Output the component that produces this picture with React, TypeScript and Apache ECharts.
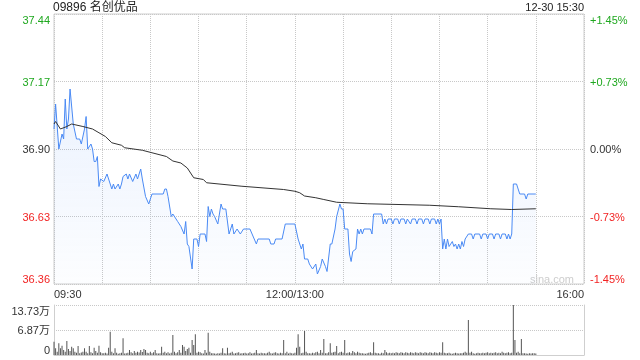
import React, { useEffect, useRef } from "react";
import * as echarts from "echarts";

// ---- data ----
const stockTitle = "09896 名创优品";
const stampText = "12-30 15:30";
const prevClose = 36.9;
const priceStep = 0.27;
const priceTickLabels = ["36.36", "36.63", "36.90", "37.17", "37.44"];
const pctTickLabels = ["-1.45%", "-0.73%", "0.00%", "+0.73%", "+1.45%"];
const volTickLabels = ["0", "6.87万", "13.73万"];
const volMax = 13.73;
const timeLabels: Record<number, string> = { 0: "09:30", 150: "12:00/13:00", 330: "16:00" };

// [minute since 09:30 (lunch removed), price]
const pricePoints: [number, number][] = [
  [0, 36.98], [1, 37.08], [3, 36.9], [5, 36.96], [6, 36.94], [7, 37.1], [8, 36.98], [9, 37.02], [10, 37.14], [12, 37.0],
  [14, 36.94], [16, 36.94], [17, 36.92], [19, 36.98], [20, 37.03], [21, 36.9], [23, 36.92], [24, 36.9], [25, 36.85], [26, 36.85],
  [27, 36.87], [28, 36.75], [29, 36.78], [31, 36.77], [33, 36.8], [35, 36.76], [36, 36.74], [37, 36.76], [38, 36.74], [40, 36.76],
  [41, 36.74], [42, 36.76], [43, 36.79], [45, 36.8], [46, 36.78], [47, 36.8], [49, 36.77], [51, 36.8], [52, 36.78], [54, 36.82],
  [55, 36.78], [57, 36.71], [59, 36.68], [61, 36.72], [68, 36.72], [69, 36.74], [70, 36.74], [71, 36.71], [73, 36.63], [74, 36.64],
  [77, 36.61], [79, 36.59], [81, 36.56], [82, 36.61], [83, 36.52], [84, 36.51], [86, 36.42], [87, 36.54], [89, 36.54], [90, 36.51],
  [91, 36.56], [94, 36.56], [95, 36.53], [96, 36.67], [97, 36.63], [98, 36.66], [99, 36.64], [100, 36.63], [102, 36.6], [104, 36.68],
  [105, 36.66], [107, 36.66], [109, 36.56], [111, 36.6], [112, 36.56], [114, 36.58], [116, 36.56], [118, 36.58], [122, 36.58], [126, 36.52],
  [127, 36.54], [134, 36.54], [135, 36.52], [137, 36.52], [138, 36.54], [142, 36.54], [144, 36.6], [150, 36.6], [152, 36.54], [154, 36.5],
  [155, 36.52], [156, 36.46], [158, 36.46], [159, 36.44], [161, 36.42], [163, 36.44], [164, 36.4], [166, 36.43], [167, 36.46], [169, 36.43],
  [170, 36.41], [172, 36.52], [173, 36.52], [175, 36.58], [176, 36.63], [178, 36.68], [179, 36.66], [180, 36.66], [181, 36.58], [183, 36.58],
  [184, 36.48], [185, 36.45], [186, 36.49], [188, 36.5], [189, 36.58], [190, 36.56], [191, 36.58], [192, 36.56], [193, 36.58], [197, 36.58],
  [198, 36.56], [199, 36.64], [204, 36.64], [205, 36.6], [206, 36.62], [207, 36.6], [208, 36.62], [210, 36.62], [211, 36.6], [212, 36.62],
  [214, 36.62], [215, 36.6], [216, 36.62], [218, 36.62], [219, 36.6], [220, 36.62], [222, 36.6], [223, 36.62], [225, 36.62], [226, 36.6],
  [227, 36.62], [229, 36.62], [230, 36.6], [231, 36.62], [233, 36.62], [234, 36.6], [235, 36.62], [237, 36.62], [238, 36.6], [239, 36.62],
  [240, 36.6], [241, 36.62], [242, 36.5], [243, 36.54], [244, 36.5], [245, 36.54], [246, 36.51], [248, 36.53], [249, 36.51], [250, 36.52],
  [251, 36.5], [252, 36.52], [253, 36.5], [254, 36.53], [255, 36.51], [256, 36.54], [258, 36.56], [260, 36.56], [261, 36.54], [262, 36.56],
  [265, 36.56], [266, 36.54], [267, 36.56], [269, 36.56], [270, 36.54], [271, 36.56], [273, 36.56], [274, 36.54], [275, 36.56], [277, 36.56],
  [278, 36.54], [279, 36.56], [281, 36.56], [282, 36.54], [283, 36.56], [284, 36.54], [285, 36.56], [286, 36.76], [288, 36.76], [290, 36.72],
  [293, 36.72], [294, 36.7], [295, 36.72], [300, 36.72],
];

const avgPoints: [number, number][] = [
  [0, 37.0], [1, 37.01], [4, 36.98], [8, 36.99], [11, 37.0], [18, 36.99], [24, 36.98], [28, 36.965], [32, 36.95], [36, 36.925],
  [42, 36.915], [44, 36.905], [55, 36.895], [61, 36.885], [70, 36.87], [74, 36.852], [79, 36.844], [83, 36.824], [87, 36.785], [93, 36.778],
  [95, 36.765], [117, 36.751], [143, 36.738], [150, 36.731], [153, 36.725], [156, 36.712], [163, 36.705], [168, 36.698], [176, 36.687], [195, 36.681],
  [234, 36.675], [252, 36.669], [272, 36.661], [285, 36.658], [300, 36.661],
];

// volume per minute, in 万 shares
const volumes: number[] = [
  3.65, 1.84, 0.9, 3.21, 1.84, 2.55, 1.37, 0.91, 3.84, 1.65,
  1.1, 2.28, 1.84, 0.91, 0.6, 2.47, 0.47, 0.7, 0.91, 1.84,
  0.91, 0.5, 2.47, 0.74, 0.5, 2.0, 1.1, 0.6, 2.55, 0.74,
  0.5, 0.47, 0.6, 0.4, 2.0, 6.4, 0.91, 0.5, 1.84, 0.6,
  0.36, 0.5, 0.6, 4.59, 0.4, 0.47, 0.6, 1.37, 0.74, 0.5,
  1.1, 0.6, 0.91, 0.7, 1.37, 0.8, 1.65, 1.37, 0.6, 0.5,
  0.91, 0.5, 0.74, 1.37, 0.5, 0.4, 0.47, 2.28, 0.6, 0.91,
  0.5, 0.74, 0.4, 0.6, 5.49, 0.91, 0.5, 0.74, 1.37, 0.6,
  2.75, 2.28, 1.1, 1.65, 2.0, 0.6, 4.12, 2.75, 5.68, 0.6,
  0.91, 0.74, 0.5, 0.4, 1.37, 0.6, 6.12, 0.91, 0.47, 0.5,
  0.4, 0.36, 0.5, 0.4, 0.6, 1.84, 0.5, 0.4, 2.0, 0.5,
  0.6, 0.91, 0.4, 0.5, 0.6, 0.74, 0.4, 0.5, 0.47, 0.6,
  0.4, 0.5, 0.74, 0.4, 0.5, 0.6, 1.37, 0.5, 0.4, 0.6,
  0.47, 0.5, 0.4, 0.6, 0.91, 0.5, 0.4, 0.6, 0.74, 0.5,
  0.4, 0.6, 0.5, 4.12, 0.5, 0.91, 0.4, 0.6, 0.5, 0.4,
  0.6, 2.0, 5.68, 2.28, 0.5, 0.6, 6.59, 0.91, 0.5, 0.47,
  0.4, 0.6, 0.5, 0.74, 0.91, 0.5, 1.37, 0.6, 4.39, 0.47,
  0.5, 0.74, 3.21, 0.6, 0.74, 0.91, 2.47, 0.5, 0.74, 0.91,
  0.6, 4.12, 0.47, 0.6, 0.74, 0.5, 1.1, 0.74, 0.5, 0.91,
  0.6, 0.47, 0.5, 0.4, 0.36, 0.5, 0.6, 0.74, 0.5, 3.49,
  0.6, 0.47, 0.5, 0.36, 0.6, 0.5, 1.37, 0.74, 0.5, 0.6,
  0.47, 0.6, 0.5, 0.74, 0.6, 0.5, 0.74, 0.6, 0.5, 0.74,
  0.6, 0.5, 0.74, 0.6, 0.5, 0.74, 0.6, 0.5, 0.74, 0.6,
  0.5, 0.74, 0.6, 0.5, 0.74, 0.6, 0.5, 0.74, 0.6, 0.5,
  0.74, 0.6, 3.49, 0.6, 0.47, 0.5, 0.6, 0.4, 0.36, 0.5,
  0.6, 0.5, 0.4, 0.5, 0.47, 0.6, 0.91, 0.6, 9.61, 0.6,
  0.91, 0.5, 0.36, 0.5, 0.6, 0.5, 0.47, 0.6, 0.5, 0.6,
  0.74, 0.5, 0.6, 0.5, 0.6, 0.74, 0.5, 0.6, 0.5, 0.91,
  0.6, 0.5, 0.6, 0.74, 0.5, 0.6, 13.73, 4.12, 0.6, 0.91,
  0.5, 4.39, 0.47, 0.5, 0.4, 0.36, 0.5, 0.4, 0.47, 0.5,
  0.4,
];

const FONT = "Arial, 'Liberation Sans', 'Noto Sans CJK SC', sans-serif";
const GREEN = "#1fa81f";
const RED = "#f22323";
const DARK = "#333";

const toUnit = (p: number) => (p - prevClose) / priceStep;
const tickColor = (v: number) => {
  const i = Math.round(Number(v));
  return i > 0 ? GREEN : i < 0 ? RED : DARK;
};

export default function App() {
  const ref = useRef<HTMLDivElement>(null);
  useEffect(() => {
    if (!ref.current) return;
    const chart = echarts.init(ref.current, undefined, { renderer: "svg" });
    const dotted = { type: "dotted" as const, color: "#c8c8c8", width: 1 };
    chart.setOption({
      animation: false,
      textStyle: { fontFamily: FONT },
      title: [
        { text: stockTitle, left: 53, top: 1, padding: 0, textStyle: { fontSize: 12, fontWeight: "normal", color: "#222", fontFamily: FONT } },
        { text: stampText, right: 56, top: 1, padding: 0, textStyle: { fontSize: 11, fontWeight: "normal", color: "#222", fontFamily: FONT } },
      ],
      grid: [
        { left: 54, right: 56, top: 14, height: 270, show: true, borderColor: "#cfcfcf", borderWidth: 1, backgroundColor: "transparent" },
        { left: 54, right: 56, top: 305, height: 50 },
      ],
      xAxis: [
        {
          type: "value", gridIndex: 0, min: 0, max: 330, interval: 30,
          axisLine: { show: false }, axisTick: { show: false },
          splitLine: { show: true, lineStyle: dotted },
          axisLabel: {
            fontSize: 11, color: DARK, margin: 4, showMinLabel: true, showMaxLabel: true,
            alignMinLabel: "left", alignMaxLabel: "right",
            formatter: (v: number) => timeLabels[v] ?? "",
          },
        },
        {
          type: "value", gridIndex: 1, min: 0, max: 330, interval: 30,
          axisLine: { show: true, lineStyle: { color: "#cfcfcf" } }, axisTick: { show: false },
          splitLine: { show: false }, axisLabel: { show: false },
        },
      ],
      yAxis: [
        {
          type: "value", gridIndex: 0, min: -2, max: 2, interval: 1,
          axisLine: { show: false }, axisTick: { show: false },
          splitLine: { show: true, lineStyle: dotted },
          axisLabel: {
            fontSize: 11, margin: 4, color: tickColor,
            verticalAlignMinLabel: "bottom", verticalAlignMaxLabel: "top",
            formatter: (v: number) => priceTickLabels[Math.round(v) + 2],
          },
        },
        {
          type: "value", gridIndex: 0, position: "right", min: -2, max: 2, interval: 1,
          axisLine: { show: false }, axisTick: { show: false }, splitLine: { show: false },
          axisLabel: {
            fontSize: 11, margin: 6, color: tickColor,
            verticalAlignMinLabel: "bottom", verticalAlignMaxLabel: "top",
            formatter: (v: number) => pctTickLabels[Math.round(v) + 2],
          },
        },
        {
          type: "value", gridIndex: 1, min: 0, max: volMax, interval: volMax / 2,
          axisLine: { show: true, lineStyle: { color: "#cfcfcf" } }, axisTick: { show: false },
          splitLine: { show: true, lineStyle: dotted },
          axisLabel: {
            fontSize: 11, margin: 4, color: DARK,
            verticalAlignMinLabel: "bottom", verticalAlignMaxLabel: "top",
            formatter: (v: number) => volTickLabels[Math.round(v / (volMax / 2))],
          },
        },
        {
          type: "value", gridIndex: 1, position: "right", min: 0, max: volMax,
          axisLine: { show: true, lineStyle: { color: "#cfcfcf" } }, axisTick: { show: false },
          splitLine: { show: false }, axisLabel: { show: false },
        },
      ],
      graphic: [
        {
          type: "text", x: 574, y: 279, silent: true,
          style: { text: "sina.com", x: 0, y: 0, align: "right", textAlign: "right", verticalAlign: "middle", textVerticalAlign: "middle", fill: "#cdcdcd", font: `11px ${FONT}` },
        },
      ],
      series: [
        {
          type: "line", xAxisIndex: 0, yAxisIndex: 0, showSymbol: false, symbol: "none",
          data: pricePoints.map(([m, p]) => [m, toUnit(p)]),
          lineStyle: { color: "#4a8af4", width: 1 },
          areaStyle: {
            origin: "start",
            color: new echarts.graphic.LinearGradient(0, 0, 0, 1, [
              { offset: 0, color: "rgba(74,138,244,0.16)" },
              { offset: 1, color: "rgba(74,138,244,0.02)" },
            ]),
          },
          z: 3,
        },
        {
          type: "line", xAxisIndex: 0, yAxisIndex: 0, showSymbol: false, symbol: "none",
          data: avgPoints.map(([m, p]) => [m, toUnit(p)]),
          lineStyle: { color: "#333", width: 1 },
          z: 4,
        },
        {
          type: "bar", xAxisIndex: 1, yAxisIndex: 2, barWidth: 1,
          data: volumes.map((v, i) => [i, v]),
          itemStyle: { color: "#555" },
        },
      ],
    });
    return () => chart.dispose();
  }, []);
  return <div ref={ref} style={{ position: "fixed", left: 0, top: 0, width: 640, height: 360 }} />;
}
